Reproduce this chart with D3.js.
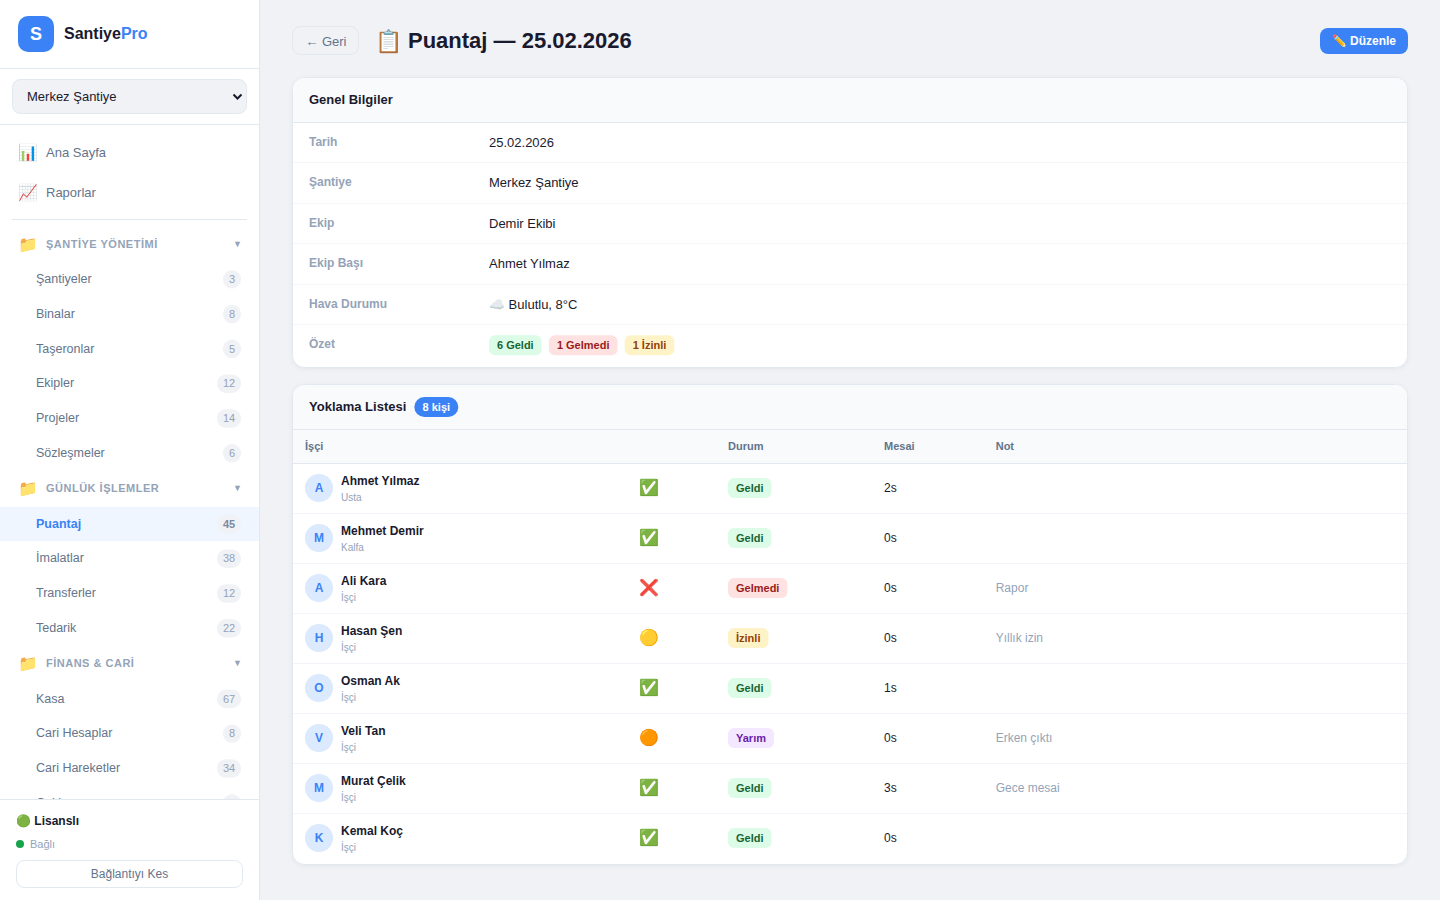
<!DOCTYPE html>
<html lang="tr">
<head>
<meta charset="utf-8">
<title>Puantaj</title>
<script src="https://cdn.jsdelivr.net/npm/d3@7"></script>
<style>
  html, body { margin: 0; padding: 0; background: #f0f2f6; overflow: hidden; }
  svg { display: block; }
  text { font-family: "Liberation Sans", Arial, sans-serif; }
</style>
</head>
<body>
<svg id="page" width="1440" height="900"></svg>
<script>
// Sidebar data
const topLinks = [["📊", "Ana Sayfa"], ["📈", "Raporlar"]];
const navRows = [
  ["section", "ŞANTİYE YÖNETİMİ", ""],
  ["item", "Şantiyeler", "3"],
  ["item", "Binalar", "8"],
  ["item", "Taşeronlar", "5"],
  ["item", "Ekipler", "12"],
  ["item", "Projeler", "14"],
  ["item", "Sözleşmeler", "6"],
  ["section", "GÜNLÜK İŞLEMLER", ""],
  ["active", "Puantaj", "45"],
  ["item", "İmalatlar", "38"],
  ["item", "Transferler", "12"],
  ["item", "Tedarik", "22"],
  ["section", "FİNANS & CARİ", ""],
  ["item", "Kasa", "67"],
  ["item", "Cari Hesaplar", "8"],
  ["item", "Cari Hareketler", "34"],
  ["item", "Çekler", "5"]
];

// Info card data
const infoLabels = ["Tarih", "Şantiye", "Ekip", "Ekip Başı", "Hava Durumu", "Özet"];
const infoValues = ["25.02.2026", "Merkez Şantiye", "Demir Ekibi", "Ahmet Yılmaz", "☁️ Bulutlu, 8°C", ""];
const summaryBadges = [["6 Geldi", "geldi"], ["1 Gelmedi", "gelmedi"], ["1 İzinli", "izinli"]];

// Attendance table data
const workers = ["Ahmet Yılmaz", "Mehmet Demir", "Ali Kara", "Hasan Şen", "Osman Ak", "Veli Tan", "Murat Çelik", "Kemal Koç"];
const roles = ["Usta", "Kalfa", "İşçi", "İşçi", "İşçi", "İşçi", "İşçi", "İşçi"];
const statuses = ["Geldi", "Geldi", "Gelmedi", "İzinli", "Geldi", "Yarım", "Geldi", "Geldi"];
const hours = ["2s", "0s", "0s", "0s", "1s", "0s", "3s", "0s"];
const notes = ["", "", "Rapor", "Yıllık izin", "", "Erken çıktı", "Gece mesai", ""];
const tableHeads = ["İşçi", "", "Durum", "Mesai", "Not"];

const statusIcon = { "Geldi": "✅", "Gelmedi": "❌", "İzinli": "🟡", "Yarım": "🟠" };
const badgeStyle = {
  geldi: ["#dcfce7", "#166534"],
  gelmedi: ["#fee2e2", "#991b1b"],
  izinli: ["#fef3c7", "#92400e"],
  yarim: ["#f3e8ff", "#6b21a8"]
};
const statusKey = { "Geldi": "geldi", "Gelmedi": "gelmedi", "İzinli": "izinli", "Yarım": "yarim" };

const ink = "#1a1a2e", slate = "#64748b", muted = "#94a3b8", line = "#e2e8f0", blue = "#3b82f6", pageBg = "#f0f2f6";
const svg = d3.select("#page");

function label(g, x, y, str, size, fill, weight) {
  return g.append("text").attr("x", x).attr("y", y).attr("dy", "0.35em")
    .attr("font-size", size).attr("fill", fill).attr("font-weight", weight || 400).text(str);
}

// pill sized from its own text
function badge(g, x, cy, str, key) {
  const [bg, fg] = badgeStyle[key];
  const r = g.append("rect").attr("x", x).attr("y", cy - 10).attr("height", 20).attr("rx", 6).attr("fill", bg);
  const t = label(g, x + 8, cy, str, 11, fg, 700);
  const w = t.node().getComputedTextLength() + 16;
  r.attr("width", w);
  return w;
}

/* ---------- sidebar ---------- */
const side = svg.append("g");
side.append("rect").attr("width", 259).attr("height", 900).attr("fill", "#fff");
side.append("rect").attr("x", 259).attr("width", 1).attr("height", 900).attr("fill", line);

side.append("rect").attr("x", 18).attr("y", 16).attr("width", 36).attr("height", 36).attr("rx", 10).attr("fill", blue);
label(side, 36, 34, "S", 18, "#fff", 700).attr("text-anchor", "middle");
const brand = label(side, 64, 33.5, "", 16, ink, 700);
brand.append("tspan").text("Santiye");
brand.append("tspan").attr("fill", blue).text("Pro");
side.append("rect").attr("y", 68).attr("width", 259).attr("height", 1).attr("fill", line);

side.append("rect").attr("x", 12.5).attr("y", 79.5).attr("width", 234).attr("height", 34).attr("rx", 8)
  .attr("fill", pageBg).attr("stroke", line);
label(side, 27, 96, "Merkez Şantiye", 13, ink);
side.append("path").attr("d", "M233.5 94.5l4 4 4-4").attr("fill", "none").attr("stroke", ink).attr("stroke-width", 2);
side.append("rect").attr("y", 124).attr("width", 259).attr("height", 1).attr("fill", line);

const linkY = d3.scalePoint().domain(topLinks.map(d => d[1])).range([152, 192]);
const links = side.selectAll("g.link").data(topLinks).join("g").attr("class", "link");
links.each(function (d) {
  const g = d3.select(this);
  label(g, 18, linkY(d[1]), d[0], 16, ink);
  label(g, 46, linkY(d[1]), d[1], 13, slate);
});
side.append("rect").attr("x", 12).attr("y", 219).attr("width", 235).attr("height", 1).attr("fill", line);

// nav list, clipped by the footer
svg.append("clipPath").attr("id", "navClip").append("rect").attr("width", 259).attr("height", 799);
const nav = side.append("g").attr("clip-path", "url(#navClip)");
let navCursor = 243.4;
navRows.forEach((d, i) => {
  const [kind, name, count] = d;
  if (i > 0) {
    const prev = navRows[i - 1][0];
    navCursor += kind === "section" ? 35.4 : prev === "section" ? 35.2 : 34.8;
  }
  const y = navCursor;
  if (kind === "section") {
    label(nav, 18, y + 0.6, "📁", 16, ink);
    label(nav, 46, y + 0.6, name, 11, muted, 700).attr("letter-spacing", "0.5px");
    label(nav, 237.5, y + 0.2, "▼", 9, muted).attr("text-anchor", "middle");
    return;
  }
  if (kind === "active") nav.append("rect").attr("y", y - 16.2).attr("width", 259).attr("height", 34).attr("fill", "#eff6ff");
  label(nav, 36, y, name, 12.5, kind === "active" ? blue : slate, kind === "active" ? 700 : 400);
  const w = count.length > 1 ? 24 : 18;
  nav.append("rect").attr("x", 241 - w).attr("y", y - 8.6).attr("width", w).attr("height", 18.6).attr("rx", 9).attr("fill", pageBg);
  label(nav, 241 - w / 2, y + 0.5, count, 11, kind === "active" ? "#7b8ba1" : muted, kind === "active" ? 700 : 400).attr("text-anchor", "middle");
});

side.append("rect").attr("y", 799).attr("width", 259).attr("height", 1).attr("fill", line);
label(side, 16, 821, "🟢", 12, ink);
label(side, 34.3, 821, "Lisanslı", 12, ink, 700);
side.append("circle").attr("cx", 20).attr("cy", 844).attr("r", 4).attr("fill", "#16a34a");
label(side, 30, 844.5, "Bağlı", 11, muted);
side.append("rect").attr("x", 16.5).attr("y", 860.5).attr("width", 226).attr("height", 27).attr("rx", 8)
  .attr("fill", "#fff").attr("stroke", line);
label(side, 129.5, 874, "Bağlantıyı Kes", 12, slate).attr("text-anchor", "middle");

/* ---------- page header ---------- */
const head = svg.append("g");
head.append("rect").attr("x", 292.5).attr("y", 26.5).attr("width", 66).attr("height", 28).attr("rx", 8)
  .attr("fill", pageBg).attr("stroke", line);
label(head, 305.3, 41, "← Geri", 13, slate);
label(head, 375, 41, "📋", 22, ink);
label(head, 408, 40.5, "Puantaj — 25.02.2026", 22, ink, 700);
head.append("rect").attr("x", 1320).attr("y", 28).attr("width", 88).attr("height", 26).attr("rx", 8).attr("fill", blue);
label(head, 1332, 41, "✏️", 12, "#fff");
label(head, 1350, 41, "Düzenle", 12, "#fff", 700);

// y is the outer top edge, h the outer height
function card(y, h, headH) {
  const g = svg.append("g");
  g.append("rect").attr("x", 292.5).attr("y", y - 0.5).attr("width", 1115).attr("height", h).attr("rx", 12)
    .attr("fill", "#fff").attr("stroke", line).attr("stroke-width", 1)
    .style("filter", "drop-shadow(0 1px 2px rgba(0,0,0,.05))");
  g.append("path")
    .attr("d", `M293 ${y + headH}V${y + 11.5}a11.5 11.5 0 0 1 11.5-11.5H1395.5a11.5 11.5 0 0 1 11.5 11.5V${y + headH}Z`)
    .attr("fill", "#f8fafc");
  g.append("rect").attr("x", 293).attr("y", y + headH).attr("width", 1114).attr("height", 1).attr("fill", line);
  return g;
}

/* ---------- info card ---------- */
const info = card(78, 290, 44);
label(info, 309, 99, "Genel Bilgiler", 13, ink, 700);
const infoY = d3.scaleLinear().domain([0, 5]).range([141.7, 343.7]);
infoLabels.forEach((name, i) => {
  const y = infoY(i);
  if (i < infoLabels.length - 1) info.append("rect").attr("x", 293).attr("y", Math.round(y + 20.6)).attr("width", 1114).attr("height", 1).attr("fill", "#f4f6fa");
  label(info, 309, y, name, 12, muted, 700);
  label(info, 489, y + 0.65, infoValues[i], 13, ink);
});
let bx = 489;
summaryBadges.forEach(d => { bx += badge(info, bx, 345.3, d[0], d[1]) + 7.2; });

/* ---------- attendance card ---------- */
const list = card(385, 480, 44);
const title = label(list, 309, 406, "Yoklama Listesi", 13, ink, 700);
const tw = title.node().getComputedTextLength();
list.append("rect").attr("x", 309 + tw + 8).attr("y", 397).attr("width", 44).attr("height", 20).attr("rx", 10).attr("fill", blue);
label(list, 309 + tw + 30, 407.5, workers.length + " kişi", 11, "#fff", 700).attr("text-anchor", "middle");

list.append("rect").attr("x", 293).attr("y", 430).attr("width", 1114).attr("height", 33).attr("fill", "#f8fafc");
list.append("rect").attr("x", 293).attr("y", 463).attr("width", 1114).attr("height", 1).attr("fill", line);
const colX = [305, 639, 728, 884, 995.7];
tableHeads.forEach((h, i) => label(list, colX[i], 446.5, h, 11, slate, 700));

const rowY = d3.scaleBand().domain(workers).range([464, 864]);
workers.forEach((name, i) => {
  const top = rowY(name), cy = top + 24;
  if (i < workers.length - 1) list.append("rect").attr("x", 293).attr("y", top + 49).attr("width", 1114).attr("height", 1).attr("fill", "#f1f5f9");
  list.append("circle").attr("cx", 319).attr("cy", cy).attr("r", 14).attr("fill", "#dbeafe");
  label(list, 319, cy, name[0], 12, blue, 700).attr("text-anchor", "middle");
  label(list, 341, cy - 7.5, name, 12, ink, 700);
  label(list, 341, cy + 9.5, roles[i], 10, muted);
  label(list, 639, cy - 1, statusIcon[statuses[i]], 16, ink);
  badge(list, 728, cy, statuses[i], statusKey[statuses[i]]);
  label(list, 884, cy, hours[i], 12, ink);
  label(list, colX[4], cy, notes[i], 12, muted);
});
</script>
</body>
</html>
